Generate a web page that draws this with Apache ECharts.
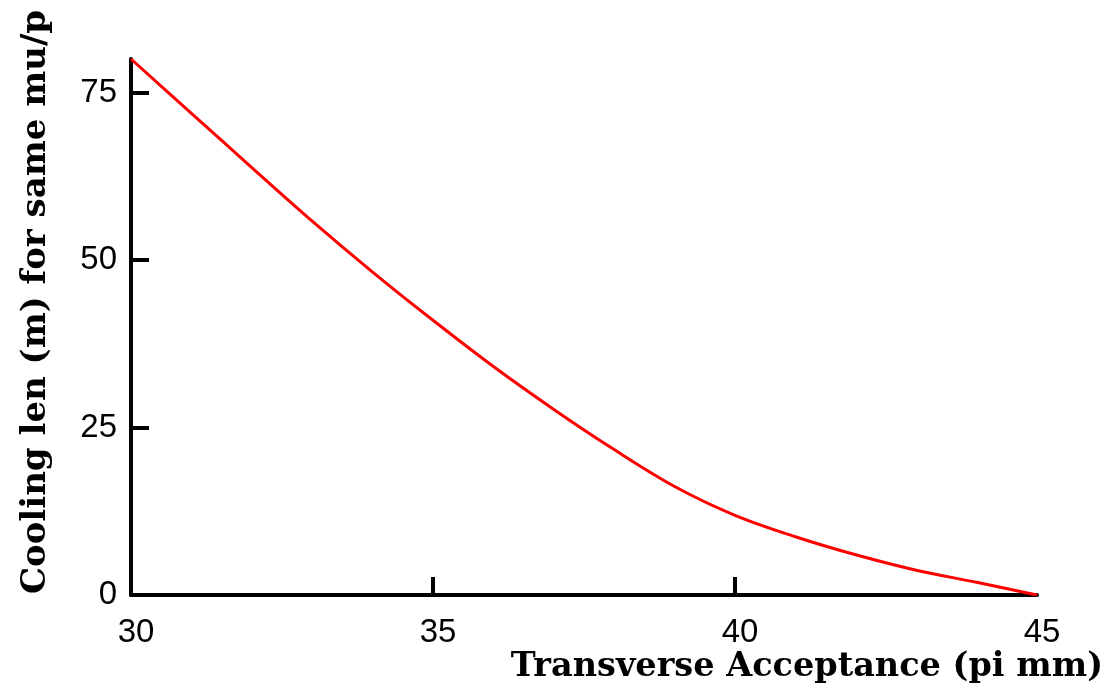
<!DOCTYPE html>
<html>
<head>
<meta charset="utf-8">
<script src="https://cdn.jsdelivr.net/npm/echarts@6/dist/echarts.min.js"></script>
<style>html,body{margin:0;padding:0;background:#fff}#c{width:1109px;height:691px}</style>
</head>
<body>
<div id="c"></div>
<script>
// Data
var acceptance = [30, 31, 32, 33, 34, 35, 36, 37, 38, 39, 40, 41, 42, 43, 44, 45];
var coolingLen = [80, 71.9, 63.8, 55.8, 48.2, 41.0, 34.1, 27.7, 21.7, 16.2, 11.9, 8.7, 6.0, 3.7, 1.9, 0];
var xTickValues = [35, 40];
var xLabelValues = [30, 35, 40, 45];
var yTickValues = [25, 50, 75];
var yLabelValues = [0, 25, 50, 75];
var xTitle = 'Transverse Acceptance (pi mm)';
var yTitle = 'Cooling len (m) for same mu/p';

var points = acceptance.map(function (x, i) { return [x, coolingLen[i]]; });

var chart = echarts.init(document.getElementById('c'));
chart.setOption({
  animation: false,
  grid: { left: 131, right: 72, top: 59, bottom: 96 },
  xAxis: {
    type: 'value', min: 30, max: 45, interval: 5,
    name: xTitle, nameLocation: 'end', nameGap: 66,
    nameTextStyle: { fontFamily: 'DejaVu Serif', fontWeight: 'bold', fontSize: 33.5, color: '#000',
      align: 'right', verticalAlign: 'top', padding: [55, 0, 0, 0] },
    axisLine: { lineStyle: { color: '#000', width: 4 } },
    axisTick: { inside: true, length: 18, lineStyle: { color: '#000', width: 4 }, customValues: xTickValues },
    axisLabel: { customValues: xLabelValues, margin: 21, fontFamily: 'Liberation Sans', fontSize: 33, color: '#000', padding: [0, 0, 0, 10] },
    splitLine: { show: false }
  },
  yAxis: {
    type: 'value', min: 0, max: 80, interval: 25,
    name: yTitle, nameLocation: 'middle', nameGap: 78, nameRotate: 90,
    nameTextStyle: { fontFamily: 'DejaVu Serif', fontWeight: 'bold', fontSize: 34, color: '#000', padding: [0, 0, 0, 50] },
    axisLine: { lineStyle: { color: '#000', width: 4 } },
    axisTick: { inside: true, length: 18, lineStyle: { color: '#000', width: 4 }, customValues: yTickValues },
    axisLabel: { customValues: yLabelValues, margin: 14, fontFamily: 'Liberation Sans', fontSize: 33, color: '#000' },
    splitLine: { show: false }
  },
  series: [{
    type: 'line', data: points, smooth: 0.35, showSymbol: false,
    lineStyle: { color: '#ff0000', width: 3 }
  }]
});
</script>
</body>
</html>
